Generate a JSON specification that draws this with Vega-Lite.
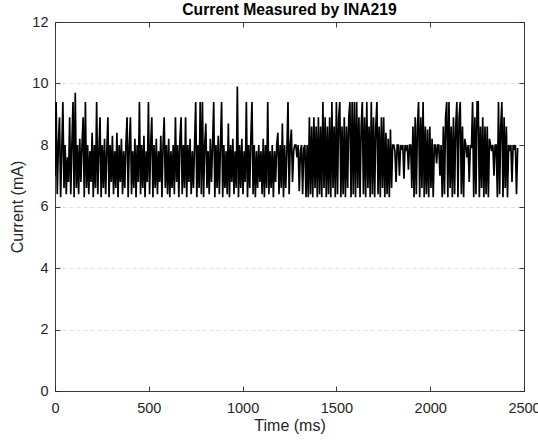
{
"$schema":"https://vega.github.io/schema/vega-lite/v6.json",
"width":469,"height":369,
"autosize":{"type":"none"},
"padding":{"left":55,"top":22,"right":14,"bottom":50},
"background":"white",
"title":{"text":"Current Measured by INA219","fontSize":15.7,"fontWeight":"bold","font":"Liberation Sans","color":"#000000","offset":-5,"anchor":"middle"},
"config":{"view":{"stroke":null},"axis":{"domainColor":"#262626","domainWidth":0.9,"tickColor":"#262626","tickWidth":0.9,"labelColor":"#262626","labelFont":"Liberation Sans","labelFontSize":14.5,"titleFont":"Liberation Sans","titleFontSize":16,"titleFontWeight":"normal","titleColor":"#262626","labelFlush":false,"labelOverlap":false}},
"data":{"values":[
{"t":0,"c":7.0},{"t":6,"c":9.4},{"t":12,"c":6.4},{"t":18,"c":8.0},{"t":24,"c":8.9},{"t":30,"c":6.3},{"t":36,"c":7.8},{"t":42,"c":9.4},{"t":48,"c":6.6},{"t":54,"c":8.0},
{"t":60,"c":6.4},{"t":66,"c":7.6},{"t":72,"c":6.8},{"t":78,"c":8.9},{"t":84,"c":6.4},{"t":90,"c":8.0},{"t":96,"c":9.4},{"t":102,"c":6.3},{"t":108,"c":9.7},{"t":114,"c":6.6},
{"t":120,"c":8.0},{"t":126,"c":6.4},{"t":132,"c":8.2},{"t":138,"c":6.8},{"t":144,"c":8.0},{"t":150,"c":8.9},{"t":156,"c":6.3},{"t":162,"c":9.4},{"t":168,"c":6.6},{"t":174,"c":8.0},
{"t":180,"c":6.4},{"t":186,"c":7.8},{"t":192,"c":6.8},{"t":198,"c":8.4},{"t":204,"c":6.3},{"t":210,"c":8.0},{"t":216,"c":6.6},{"t":222,"c":9.4},{"t":228,"c":6.4},{"t":234,"c":7.8},
{"t":240,"c":8.9},{"t":246,"c":6.3},{"t":252,"c":8.0},{"t":258,"c":6.6},{"t":264,"c":8.2},{"t":270,"c":6.4},{"t":276,"c":7.8},{"t":282,"c":8.9},{"t":288,"c":6.3},{"t":294,"c":8.0},
{"t":300,"c":6.8},{"t":306,"c":8.3},{"t":312,"c":6.4},{"t":318,"c":7.8},{"t":324,"c":6.6},{"t":330,"c":8.4},{"t":336,"c":6.3},{"t":342,"c":8.0},{"t":348,"c":6.8},{"t":354,"c":8.2},
{"t":360,"c":6.4},{"t":366,"c":7.8},{"t":372,"c":6.6},{"t":378,"c":8.0},{"t":384,"c":8.9},{"t":390,"c":6.3},{"t":396,"c":8.0},{"t":402,"c":8.9},{"t":408,"c":6.4},{"t":414,"c":7.8},
{"t":420,"c":6.6},{"t":426,"c":8.2},{"t":432,"c":6.3},{"t":438,"c":8.0},{"t":444,"c":6.8},{"t":450,"c":9.4},{"t":456,"c":6.4},{"t":462,"c":8.0},{"t":468,"c":6.6},{"t":474,"c":8.3},
{"t":480,"c":6.3},{"t":486,"c":7.8},{"t":492,"c":6.8},{"t":498,"c":9.4},{"t":504,"c":6.4},{"t":510,"c":8.0},{"t":516,"c":8.9},{"t":522,"c":6.3},{"t":528,"c":8.0},{"t":534,"c":6.6},
{"t":540,"c":8.2},{"t":546,"c":6.4},{"t":552,"c":7.8},{"t":558,"c":6.8},{"t":564,"c":8.3},{"t":570,"c":6.3},{"t":576,"c":8.0},{"t":582,"c":8.9},{"t":588,"c":6.6},{"t":594,"c":8.0},
{"t":600,"c":6.4},{"t":606,"c":8.2},{"t":612,"c":6.3},{"t":618,"c":7.8},{"t":624,"c":6.6},{"t":630,"c":8.0},{"t":636,"c":6.4},{"t":642,"c":8.9},{"t":648,"c":6.8},{"t":654,"c":8.0},
{"t":660,"c":6.3},{"t":666,"c":8.2},{"t":672,"c":8.9},{"t":678,"c":6.4},{"t":684,"c":8.0},{"t":690,"c":6.6},{"t":696,"c":8.9},{"t":702,"c":6.3},{"t":708,"c":8.0},{"t":714,"c":6.8},
{"t":720,"c":8.2},{"t":726,"c":6.4},{"t":732,"c":7.8},{"t":738,"c":6.6},{"t":744,"c":8.0},{"t":750,"c":9.4},{"t":756,"c":6.3},{"t":762,"c":8.0},{"t":768,"c":6.6},{"t":774,"c":9.4},
{"t":780,"c":6.4},{"t":786,"c":9.4},{"t":792,"c":6.3},{"t":798,"c":8.0},{"t":804,"c":8.7},{"t":810,"c":6.6},{"t":816,"c":7.8},{"t":822,"c":6.4},{"t":828,"c":8.2},{"t":834,"c":6.8},
{"t":840,"c":8.0},{"t":846,"c":9.4},{"t":852,"c":6.3},{"t":858,"c":8.0},{"t":864,"c":6.6},{"t":870,"c":8.3},{"t":876,"c":6.4},{"t":882,"c":8.0},{"t":888,"c":9.4},{"t":894,"c":6.3},
{"t":900,"c":8.0},{"t":906,"c":6.6},{"t":912,"c":7.8},{"t":918,"c":6.4},{"t":924,"c":8.7},{"t":930,"c":6.3},{"t":936,"c":8.0},{"t":942,"c":6.8},{"t":948,"c":8.2},{"t":954,"c":6.4},
{"t":960,"c":7.8},{"t":966,"c":6.6},{"t":972,"c":9.9},{"t":978,"c":6.3},{"t":984,"c":8.0},{"t":990,"c":6.6},{"t":996,"c":8.2},{"t":1002,"c":6.4},{"t":1008,"c":7.8},{"t":1014,"c":6.8},
{"t":1020,"c":9.4},{"t":1026,"c":6.3},{"t":1032,"c":8.0},{"t":1038,"c":6.6},{"t":1044,"c":8.2},{"t":1050,"c":9.4},{"t":1056,"c":6.4},{"t":1062,"c":8.0},{"t":1068,"c":6.3},{"t":1074,"c":7.8},
{"t":1080,"c":6.6},{"t":1086,"c":8.0},{"t":1092,"c":6.8},{"t":1098,"c":7.8},{"t":1104,"c":6.4},{"t":1110,"c":8.2},{"t":1116,"c":6.3},{"t":1122,"c":8.0},{"t":1128,"c":6.6},{"t":1134,"c":9.4},
{"t":1140,"c":6.4},{"t":1146,"c":7.8},{"t":1152,"c":6.6},{"t":1158,"c":8.0},{"t":1164,"c":6.3},{"t":1170,"c":7.8},{"t":1176,"c":6.8},{"t":1182,"c":8.0},{"t":1188,"c":8.4},{"t":1194,"c":6.4},
{"t":1200,"c":8.0},{"t":1206,"c":6.6},{"t":1212,"c":8.7},{"t":1218,"c":6.3},{"t":1224,"c":8.0},{"t":1230,"c":6.6},{"t":1236,"c":7.8},{"t":1242,"c":9.4},{"t":1248,"c":6.4},{"t":1254,"c":8.0},
{"t":1260,"c":8.5},{"t":1266,"c":6.8},{"t":1272,"c":7.8},{"t":1278,"c":8.0},{"t":1284,"c":8.0},{"t":1290,"c":7.6},{"t":1296,"c":8.0},{"t":1302,"c":6.5},{"t":1308,"c":7.8},{"t":1314,"c":8.0},
{"t":1320,"c":6.4},{"t":1326,"c":7.9},{"t":1332,"c":8.0},{"t":1338,"c":6.3},{"t":1344,"c":8.0},
{"t":1350,"c":6.3},{"t":1356,"c":8.9},{"t":1362,"c":6.4},{"t":1368,"c":8.6},{"t":1374,"c":6.3},{"t":1380,"c":8.9},{"t":1386,"c":6.6},{"t":1392,"c":8.6},{"t":1398,"c":6.3},{"t":1404,"c":8.9},
{"t":1410,"c":6.4},{"t":1416,"c":8.6},{"t":1422,"c":6.3},{"t":1428,"c":9.4},{"t":1434,"c":6.6},{"t":1440,"c":8.9},{"t":1446,"c":6.3},{"t":1452,"c":8.6},{"t":1458,"c":6.4},{"t":1464,"c":8.9},
{"t":1470,"c":6.3},{"t":1476,"c":9.4},{"t":1482,"c":6.6},{"t":1488,"c":8.6},{"t":1494,"c":6.3},{"t":1500,"c":9.4},{"t":1506,"c":6.4},{"t":1512,"c":8.9},{"t":1518,"c":9.4},{"t":1524,"c":6.3},
{"t":1530,"c":8.6},{"t":1536,"c":6.4},{"t":1542,"c":8.9},{"t":1548,"c":6.3},{"t":1554,"c":8.6},{"t":1560,"c":6.6},{"t":1566,"c":8.9},{"t":1572,"c":9.4},{"t":1578,"c":6.3},{"t":1584,"c":9.4},
{"t":1590,"c":6.4},{"t":1596,"c":9.4},{"t":1602,"c":6.3},{"t":1608,"c":9.4},{"t":1614,"c":6.6},{"t":1620,"c":8.9},{"t":1626,"c":6.3},{"t":1632,"c":8.6},{"t":1638,"c":9.4},{"t":1644,"c":6.4},
{"t":1650,"c":8.9},{"t":1656,"c":6.3},{"t":1662,"c":9.4},{"t":1668,"c":6.6},{"t":1674,"c":8.6},{"t":1680,"c":6.3},{"t":1686,"c":9.4},{"t":1692,"c":6.4},{"t":1698,"c":8.9},{"t":1704,"c":6.3},
{"t":1710,"c":8.6},{"t":1716,"c":9.4},{"t":1722,"c":6.4},{"t":1728,"c":8.6},{"t":1734,"c":6.3},{"t":1740,"c":8.9},{"t":1746,"c":6.6},{"t":1752,"c":8.9},{"t":1758,"c":6.3},{"t":1764,"c":8.4},
{"t":1770,"c":6.4},{"t":1776,"c":8.2},{"t":1782,"c":6.3},{"t":1788,"c":8.5},{"t":1794,"c":6.6},{"t":1800,"c":8.0},
{"t":1806,"c":8.0},{"t":1812,"c":7.8},{"t":1818,"c":6.8},{"t":1824,"c":8.0},{"t":1830,"c":8.0},{"t":1836,"c":7.0},{"t":1842,"c":8.0},{"t":1848,"c":7.9},{"t":1854,"c":8.0},{"t":1860,"c":6.9},
{"t":1866,"c":8.0},{"t":1872,"c":7.8},{"t":1878,"c":8.0},{"t":1884,"c":7.2},{"t":1890,"c":8.0},{"t":1896,"c":8.0},{"t":1902,"c":6.6},
{"t":1908,"c":8.6},{"t":1914,"c":6.3},{"t":1920,"c":8.9},{"t":1926,"c":6.4},{"t":1932,"c":8.6},{"t":1938,"c":9.4},{"t":1944,"c":6.3},{"t":1950,"c":8.9},{"t":1956,"c":6.6},{"t":1962,"c":9.4},
{"t":1968,"c":6.3},{"t":1974,"c":8.6},{"t":1980,"c":6.4},{"t":1986,"c":8.5},{"t":1992,"c":6.3},{"t":1998,"c":8.6},{"t":2004,"c":6.6},{"t":2010,"c":8.2},{"t":2016,"c":6.3},{"t":2022,"c":8.0},
{"t":2028,"c":8.0},{"t":2034,"c":7.4},{"t":2040,"c":8.0},{"t":2046,"c":8.0},{"t":2052,"c":7.0},{"t":2058,"c":8.0},
{"t":2064,"c":6.3},{"t":2070,"c":8.6},{"t":2076,"c":6.4},{"t":2082,"c":8.9},{"t":2088,"c":9.4},{"t":2094,"c":6.3},{"t":2100,"c":9.4},{"t":2106,"c":6.6},{"t":2112,"c":8.6},{"t":2118,"c":6.3},
{"t":2124,"c":8.9},{"t":2130,"c":6.4},{"t":2136,"c":8.6},{"t":2142,"c":9.4},{"t":2148,"c":6.3},{"t":2154,"c":8.9},{"t":2160,"c":9.4},{"t":2166,"c":6.4},{"t":2172,"c":8.6},{"t":2178,"c":6.3},{"t":2184,"c":8.2},
{"t":2190,"c":8.0},{"t":2196,"c":7.6},{"t":2202,"c":8.0},{"t":2208,"c":6.8},{"t":2214,"c":8.0},{"t":2220,"c":7.9},
{"t":2226,"c":9.4},{"t":2232,"c":6.3},{"t":2238,"c":8.9},{"t":2244,"c":6.4},{"t":2250,"c":9.4},{"t":2256,"c":9.4},{"t":2262,"c":6.3},{"t":2268,"c":8.6},{"t":2274,"c":6.6},{"t":2280,"c":8.9},
{"t":2286,"c":6.3},{"t":2292,"c":8.6},{"t":2298,"c":6.4},{"t":2304,"c":8.6},{"t":2310,"c":6.3},{"t":2316,"c":8.2},
{"t":2322,"c":8.0},{"t":2328,"c":7.8},{"t":2334,"c":8.0},{"t":2340,"c":7.0},{"t":2346,"c":8.0},{"t":2352,"c":8.0},
{"t":2358,"c":6.3},{"t":2364,"c":9.4},{"t":2370,"c":6.4},{"t":2376,"c":8.6},{"t":2382,"c":9.4},{"t":2388,"c":6.3},{"t":2394,"c":8.9},{"t":2400,"c":6.6},{"t":2406,"c":8.6},{"t":2412,"c":6.3},
{"t":2418,"c":8.0},{"t":2424,"c":7.8},{"t":2430,"c":8.0},{"t":2436,"c":6.8},{"t":2442,"c":8.0},{"t":2448,"c":7.9},{"t":2454,"c":8.0},{"t":2460,"c":6.4},{"t":2466,"c":7.9}
]},
"layer":[
{"mark":{"type":"line","color":"#000000","strokeWidth":1.7,"clip":true},
 "encoding":{
  "x":{"field":"t","type":"quantitative","scale":{"domain":[0,2500],"nice":false,"zero":false},
   "axis":{"orient":"bottom","values":[0,500,1000,1500,2000,2500],"format":"d","tickSize":-5,"labelPadding":15,"grid":false,"title":"Time (ms)","titlePadding":3}},
  "y":{"field":"c","type":"quantitative","scale":{"domain":[0,12],"nice":false,"zero":false},
   "axis":{"orient":"left","values":[0,2,4,6,8,10,12],"format":"d","tickSize":-5,"labelPadding":12,"grid":true,"gridColor":"#dcdcdc","gridDash":[4,3],"gridWidth":0.9,"title":"Current (mA)","titlePadding":6}}
 }},
{"mark":{"type":"line","opacity":0},
 "encoding":{
  "x":{"field":"t","type":"quantitative","axis":{"orient":"top","values":[0,500,1000,1500,2000,2500],"tickSize":-5,"labels":false,"grid":false,"title":null}},
  "y":{"field":"c","type":"quantitative","axis":{"orient":"right","values":[0,2,4,6,8,10,12],"tickSize":-5,"labels":false,"grid":false,"title":null}}
 }}
],
"resolve":{"axis":{"x":"independent","y":"independent"}}
}
